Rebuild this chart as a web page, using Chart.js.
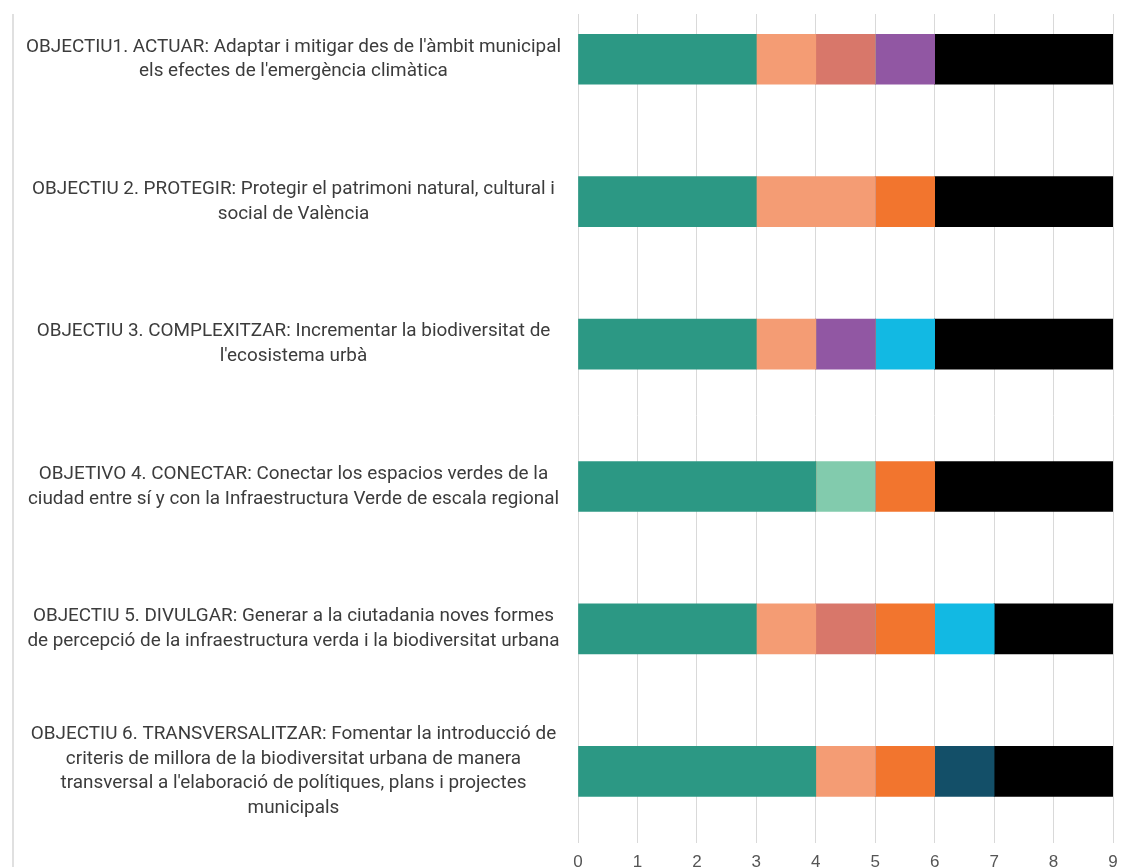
<!DOCTYPE html>
<html>
<head>
<meta charset="utf-8">
<script src="https://cdn.jsdelivr.net/npm/chart.js@4.4.0/dist/chart.umd.min.js"></script>
<style>
  body { margin: 0; background: #fff; overflow: hidden; width: 1128px; height: 867px; position: relative; }
  #wrap { position: absolute; left: 0; top: -26px; }
  #leftLine { position: absolute; left: 12px; top: 14px; width: 2px; height: 860px; background: #e0e0e0; }
  #topMask { position: absolute; left: 560px; top: 0; width: 568px; height: 14px; background: #fff; }
</style>
</head>
<body>
<div id="wrap"><canvas id="myChart" width="1128" height="909"></canvas></div>
<div id="leftLine"></div>
<div id="topMask"></div>
<script>
// categories (multi-line labels as shown on the left axis)
const categories = [
  ["OBJECTIU1. ACTUAR: Adaptar i mitigar des de l'àmbit municipal", "els efectes de l'emergència climàtica"],
  ["OBJECTIU 2. PROTEGIR: Protegir el patrimoni natural, cultural i", "social de València"],
  ["OBJECTIU 3. COMPLEXITZAR: Incrementar la biodiversitat de", "l'ecosistema urbà"],
  ["OBJETIVO 4. CONECTAR: Conectar los espacios verdes de la", "ciudad entre sí y con la Infraestructura Verde de escala regional"],
  ["OBJECTIU 5. DIVULGAR: Generar a la ciutadania noves formes", "de percepció de la infraestructura verda i la biodiversitat urbana"],
  ["OBJECTIU 6. TRANSVERSALITZAR: Fomentar la introducció de", "criteris de millora de la biodiversitat urbana de manera", "transversal a l'elaboració de polítiques, plans i projectes", "municipals"]
];

// series values, in stacking order
const teal     = [3, 3, 3, 4, 3, 4];
const salmon   = [1, 2, 1, 0, 1, 1];
const coral    = [1, 0, 0, 0, 1, 0];
const mint     = [0, 0, 0, 1, 0, 0];
const purple   = [1, 0, 1, 0, 0, 0];
const orange   = [0, 1, 0, 1, 1, 1];
const cyan     = [0, 0, 1, 0, 1, 0];
const darkBlue = [0, 0, 0, 0, 0, 1];
const black    = [3, 3, 3, 3, 2, 2];

const xTicks = [0, 1, 2, 3, 4, 5, 6, 7, 8, 9];

const series = [
  { label: "Sèrie 1", data: teal, color: "#2c9884" },
  { label: "Sèrie 2", data: salmon, color: "#f49c74" },
  { label: "Sèrie 3", data: coral, color: "#d8776a" },
  { label: "Sèrie 4", data: mint, color: "#82cbad" },
  { label: "Sèrie 5", data: purple, color: "#9157a3" },
  { label: "Sèrie 6", data: orange, color: "#f2752e" },
  { label: "Sèrie 7", data: cyan, color: "#12b9e3" },
  { label: "Sèrie 8", data: darkBlue, color: "#134f68" },
  { label: "Sèrie 9", data: black, color: "#000000" }
];

const ctx = document.getElementById("myChart").getContext("2d");
const chart = new Chart(ctx, {
  type: "bar",
  data: {
    labels: categories,
    datasets: series.map(s => ({
      label: s.label,
      data: s.data,
      backgroundColor: s.color,
      borderWidth: 0,
      barThickness: 50
    }))
  },
  options: {
    indexAxis: "y",
    responsive: false,
    animation: false,
    layout: { padding: { left: 0, right: 15, top: 14, bottom: 0 } },
    plugins: {
      legend: { display: false },
      tooltip: { enabled: false }
    },
    scales: {
      x: {
        stacked: true,
        min: 0,
        max: 9,
        afterBuildTicks: (axis) => { axis.ticks = xTicks.map(v => ({ value: v })); },
        grid: { color: "#d9d9d9", lineWidth: 1, drawTicks: false },
        border: { display: false },
        ticks: { color: "#555", font: { family: "Liberation Sans", size: 17 }, padding: 10 }
      },
      y: {
        stacked: true,
        grid: { display: false },
        border: { display: false },
        // labels take more than half the width; tall labels should not push the bands inward
        afterFit: (axis) => { axis.width = 578; axis.paddingTop = 0; axis.paddingBottom = 0; },
        ticks: {
          color: "#3c3c3c",
          crossAlign: "center",
          padding: 9,
          font: { family: "Roboto", size: 18.9, lineHeight: 1.31 }
        }
      }
    }
  }
});
</script>
</body>
</html>
